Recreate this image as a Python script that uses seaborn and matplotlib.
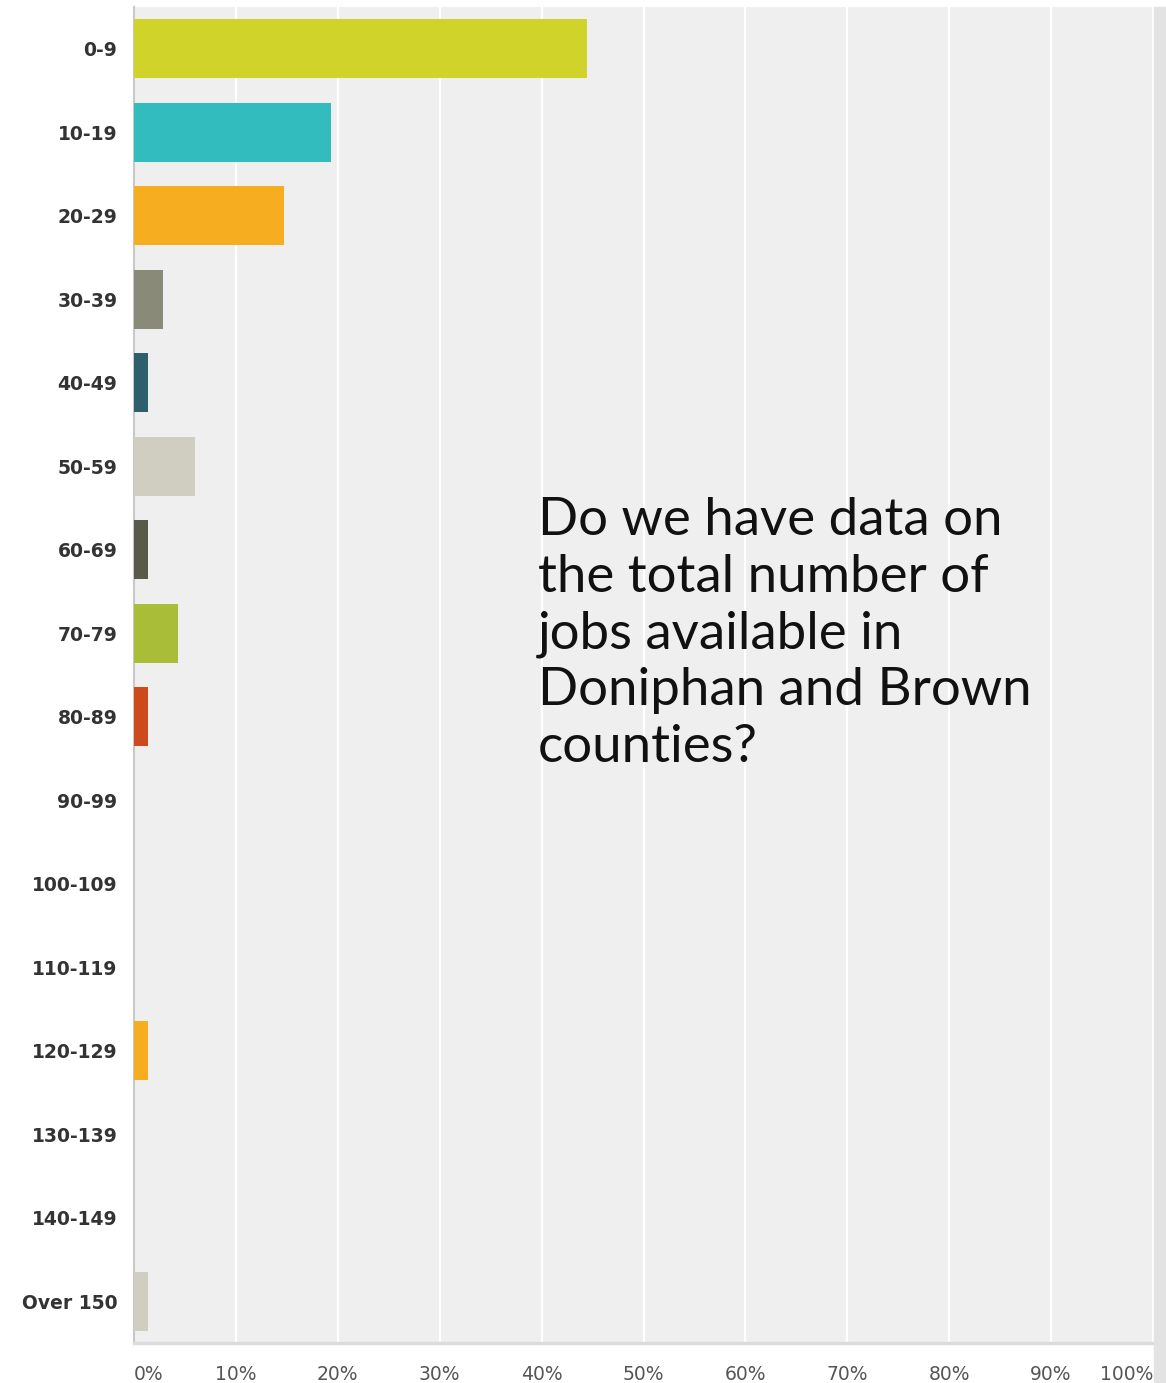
import pandas as pd
import matplotlib.pyplot as plt
import matplotlib.patches as mpatches
import seaborn as sns

# Survey answers (percent of respondents)
categories = ['0-9', '10-19', '20-29', '30-39', '40-49', '50-59', '60-69', '70-79',
              '80-89', '90-99', '100-109', '110-119', '120-129', '130-139', '140-149', 'Over 150']
percents = [44.5, 19.3, 14.7, 2.8, 1.4, 6.0, 1.4, 4.3,
            1.4, 0, 0, 0, 1.4, 0, 0, 1.4]
x_ticks = [0, 10, 20, 30, 40, 50, 60, 70, 80, 90, 100]
x_labels = ['0%', '10%', '20%', '30%', '40%', '50%', '60%', '70%', '80%', '90%', '100%']

# SurveyMonkey-like palette, cycles every 10 answers
base_colors = ['#D0D42A', '#33BCBE', '#F6AE20', '#8A8A78', '#2E5F6C',
               '#CFCEC0', '#5A5A4A', '#A9BD38', '#CC4A1C', '#7F7F7F']
palette = {c: base_colors[i % 10] for i, c in enumerate(categories)}

df = pd.DataFrame({'answer': categories, 'percent': percents})

sns.set_theme(style='white')
plt.rcParams['font.family'] = ['DejaVu Sans']

fig = plt.figure(figsize=(11.66, 13.83), dpi=100)
fig.patch.set_facecolor('white')

# grey strip along the right edge
fig.patches.append(mpatches.Rectangle((1154 / 1166, 0), 12 / 1166, 1 - 7 / 1383,
                                      transform=fig.transFigure, color='#e3e3e3', zorder=0))

ax = fig.add_axes([134 / 1166, 1 - 1343 / 1383, (1153 - 134) / 1166, (1343 - 7) / 1383])
ax.set_facecolor('#efefef')

sns.barplot(data=df, x='percent', y='answer', hue='answer', palette=palette,
            order=categories, width=0.71, legend=False, ax=ax, zorder=3,
            edgecolor='none', saturation=1)

ax.set_xlim(0, 100)
ax.set_ylim(15.5, -0.5)
ax.set_xticks(x_ticks)
ax.set_xticklabels(x_labels, fontsize=13.5, color='#555555')
ax.tick_params(axis='x', length=0, pad=16)
ax.tick_params(axis='y', length=0, pad=12)
for lab in ax.get_yticklabels():
    lab.set_fontsize(13.5)
    lab.set_fontweight('bold')
    lab.set_color('#333333')
xl = ax.get_xticklabels()
xl[0].set_horizontalalignment('left')
xl[-1].set_horizontalalignment('right')

ax.xaxis.grid(True, color='white', linewidth=1.6, zorder=1)
ax.set_axisbelow(True)
ax.set_xlabel('')
ax.set_ylabel('')

for side in ['top', 'right']:
    ax.spines[side].set_visible(False)
ax.spines['left'].set_color('#c8c8c8')
ax.spines['left'].set_linewidth(1.5)
ax.spines['bottom'].set_color('#dcdcdc')
ax.spines['bottom'].set_linewidth(2.5)

fig.text(538 / 1166, 1 - 497 / 1383,
         'Do we have data on\nthe total number of\njobs available in\nDoniphan and Brown\ncounties?',
         fontsize=38, family=['Lato', 'DejaVu Sans'], fontweight='normal', color='#111111',
         ha='left', va='top', linespacing=1.25)

fig.savefig('out.png', dpi=100)
